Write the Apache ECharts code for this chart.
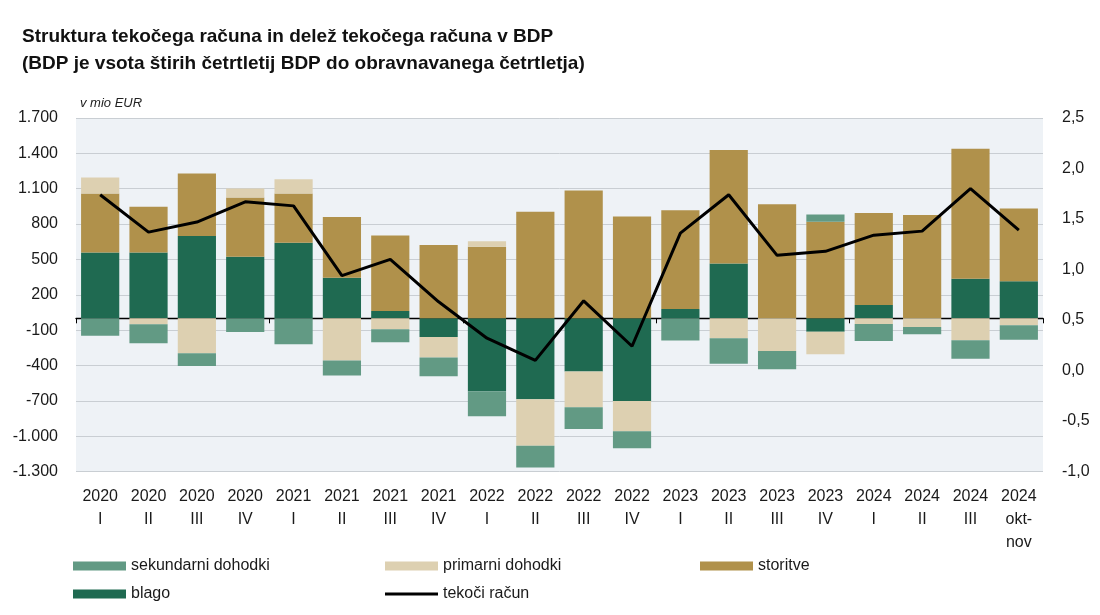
<!DOCTYPE html>
<html>
<head>
<meta charset="utf-8">
<script src="https://cdn.jsdelivr.net/npm/echarts@6/dist/echarts.min.js"></script>
<style>
html,body{margin:0;padding:0;background:#fff;}
#c{width:1100px;height:615px;}
</style>
</head>
<body>
<div id="c"></div>
<script>
const categories = ['2020\nI','2020\nII','2020\nIII','2020\nIV','2021\nI','2021\nII','2021\nIII','2021\nIV','2022\nI','2022\nII','2022\nIII','2022\nIV','2023\nI','2023\nII','2023\nIII','2023\nIV','2024\nI','2024\nII','2024\nIII','2024\nokt-\nnov'];
const blago      = [559, 559, 698, 523, 641, 345, 62, -158, -619, -686, -452, -701, 79, 466, 0, -113, 113, 0, 336, 314];
const storitve   = [500, 387, 531, 502, 418, 514, 641, 622, 607, 904, 1085, 864, 839, 963, 969, 819, 780, 876, 1102, 618];
const primarni   = [136, -51, -297, 77, 122, -359, -93, -175, 48, -395, -302, -257, 0, -170, -277, -192, -48, -73, -186, -59];
const sekundarni = [-147, -161, -107, -116, -220, -127, -110, -158, -212, -184, -186, -144, -189, -215, -155, 62, -144, -62, -158, -122];
const tekoci     = [1.74, 1.37, 1.47, 1.67, 1.63, 0.94, 1.10, 0.68, 0.32, 0.10, 0.69, 0.24, 1.36, 1.74, 1.14, 1.18, 1.34, 1.38, 1.80, 1.39];
const leftTicks  = {min: -1300, max: 1700, interval: 300};
const rightTicks = {min: -1.0, max: 2.5, interval: 0.5};

const FONT = "'Liberation Sans', Arial, sans-serif";
const C = {sek:'#629a84', prim:'#ddd0b1', stor:'#b0914b', blago:'#1f6a51', line:'#000000'};

function fmtLeft(v){
  const s = Math.abs(v).toString().replace(/\B(?=(\d{3})+(?!\d))/g, '.');
  return (v < 0 ? '-' : '') + s;
}
function fmtRight(v){ return v.toFixed(1).replace('.', ','); }

const chart = echarts.init(document.getElementById('c'), null, {renderer:'canvas'});
const barW = '79%';
function legend(name, left, top, h){
  return {data:[name], left:left, top:top, padding:0, itemWidth:53, itemHeight:h, itemGap:0,
    icon:'rect', textStyle:{fontFamily:FONT, fontSize:16, color:'#1a1a1a', padding:[0,0,0,0]}, selectedMode:false};
}
chart.setOption({
  animation:false,
  backgroundColor:'#ffffff',
  title:{
    text:'Struktura tekočega računa in delež tekočega računa v BDP\n(BDP je vsota štirih četrtletij BDP do obravnavanega četrtletja)',
    left:22, top:23, padding:0,
    textStyle:{fontFamily:FONT, fontWeight:'bold', fontSize:19, lineHeight:27, color:'#111'}
  },
  legend:[
    legend('sekundarni dohodki', 73, 558, 9),
    legend('primarni dohodki', 385, 558, 9),
    legend('storitve', 700, 558, 9),
    legend('blago', 73, 586, 9),
    legend('tekoči račun', 385, 586, 3)
  ],
  grid:{left:76, right:57, top:118, bottom:143.5, show:true, backgroundColor:'#eef2f6', borderWidth:0},
  xAxis:[
    {type:'category', data:categories, position:'bottom', axisLine:{show:false, onZero:false}, axisTick:{show:false},
      axisLabel:{fontFamily:FONT, fontSize:16, color:'#1a1a1a', lineHeight:23, margin:14, interval:0}},
    {type:'category', data:categories, position:'top', axisLine:{show:true, onZero:true, lineStyle:{color:'#000', width:1.3}},
      axisTick:{show:true, inside:true, length:5, lineStyle:{color:'#000', width:1}, interval:function(i){return i%4===0;}},
      axisLabel:{show:false}, splitLine:{show:false}}
  ],
  yAxis:[
    {type:'value', min:leftTicks.min, max:leftTicks.max, interval:leftTicks.interval,
      name:'v mio EUR', nameLocation:'end', nameGap:8,
      nameTextStyle:{fontFamily:FONT, fontStyle:'italic', fontSize:13, color:'#222', align:'left', padding:[0,0,0,4]},
      axisLine:{show:false}, axisTick:{show:false},
      axisLabel:{fontFamily:FONT, fontSize:16, color:'#1a1a1a', margin:18, formatter:fmtLeft},
      splitLine:{show:true, lineStyle:{color:'#c9ced3', width:1}}},
    {type:'value', min:rightTicks.min, max:rightTicks.max, interval:rightTicks.interval, position:'right',
      axisLine:{show:false}, axisTick:{show:false},
      axisLabel:{fontFamily:FONT, fontSize:16, color:'#1a1a1a', margin:19, formatter:fmtRight},
      splitLine:{show:false}}
  ],
  series:[
    {name:'blago', type:'bar', stack:'s', data:blago, barWidth:barW, itemStyle:{color:C.blago}},
    {name:'storitve', type:'bar', stack:'s', data:storitve, barWidth:barW, itemStyle:{color:C.stor}},
    {name:'primarni dohodki', type:'bar', stack:'s', data:primarni, barWidth:barW, itemStyle:{color:C.prim}},
    {name:'sekundarni dohodki', type:'bar', stack:'s', data:sekundarni, barWidth:barW, itemStyle:{color:C.sek}},
    {name:'tekoči račun', type:'line', yAxisIndex:1, data:tekoci, symbol:'none', z:5,
      lineStyle:{color:C.line, width:3}, itemStyle:{color:C.line}}
  ]
});
</script>
</body>
</html>
